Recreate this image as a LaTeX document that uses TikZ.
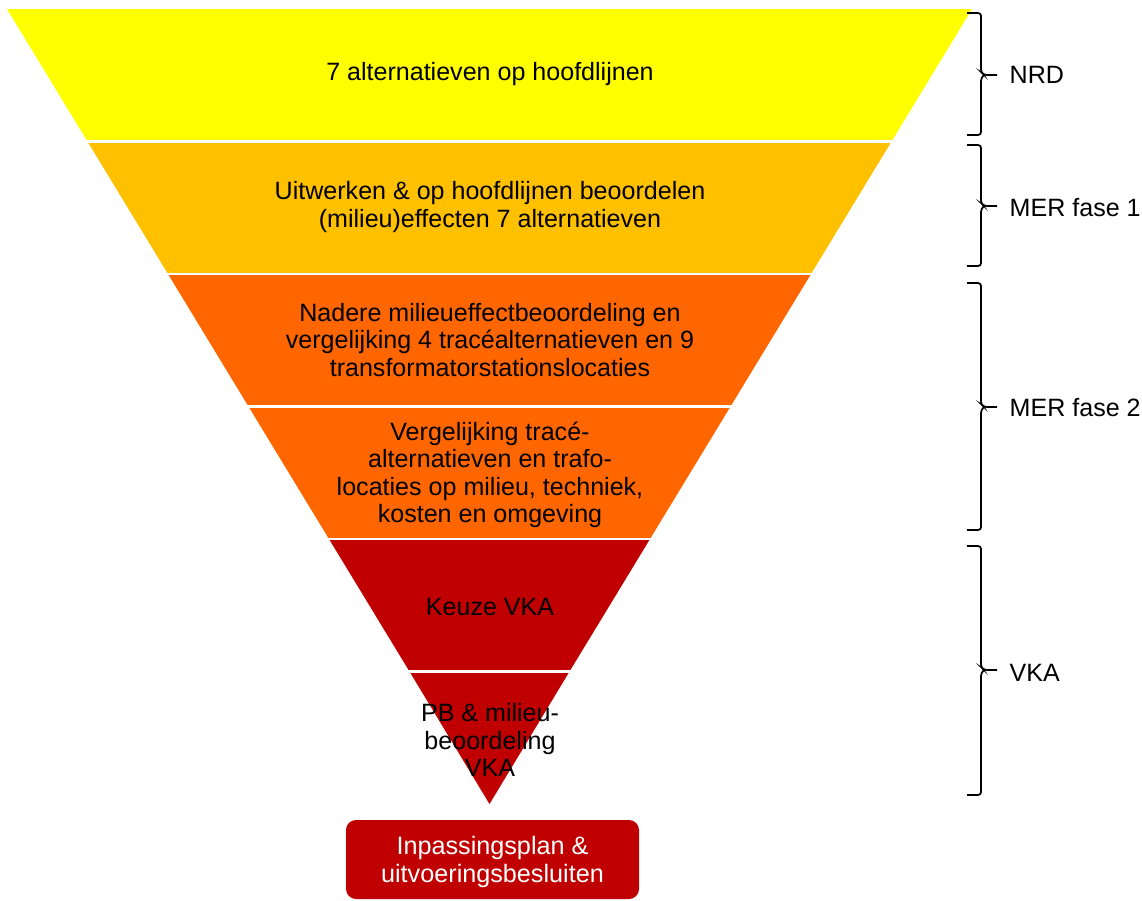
\documentclass[tikz,border=0pt]{standalone}
\usepackage{fontspec}
\setmainfont{Liberation Sans}
\definecolor{nrdyellow}{HTML}{FFFF00}
\definecolor{meramber}{HTML}{FFC000}
\definecolor{merorange}{HTML}{FF6600}
\definecolor{vkared}{HTML}{C00000}
\tikzset{
  gap/.style={draw=white, line width=2.2pt},
  bandtext/.style={align=center, font=\fontsize{18.8}{20.5}\selectfont, text=black},
  endbox/.style={fill=vkared, rounded corners=7.5pt, align=center, text=white,
    font=\fontsize{18.9}{21.5}\selectfont, minimum width=219.75pt, minimum height=59.25pt, inner sep=0pt},
  phasebrace/.style={draw=black, line width=1.3pt, rounded corners=2.2pt},
  phaselabel/.style={anchor=west, font=\fontsize{18.8}{20.5}\selectfont},
}
\begin{document}
\begin{tikzpicture}[x=0.75pt, y=-0.75pt]
        \useasboundingbox (0,0) rectangle (1142,900);
        % funnel bands
        \fill [nrdyellow] (7,9) -- (972,9) -- (891.5,141.5) -- (87.5,141.5) -- cycle;
        \fill [meramber] (87.5,141.5) -- (891.5,141.5) -- (811,274) -- (168,274) -- cycle;
        \fill [merorange] (168,274) -- (811,274) -- (730.5,406.5) -- (248.5,406.5) -- cycle;
        \fill [merorange] (248.5,406.5) -- (730.5,406.5) -- (650,539) -- (329,539) -- cycle;
        \fill [vkared] (329,539) -- (650,539) -- (569.5,671.5) -- (409.5,671.5) -- cycle;
        \fill [vkared] (409.5,671.5) -- (569.5,671.5) -- (489.5,804) -- cycle;
        \draw [gap] (80,141.5) -- (900,141.5);
        \draw [gap] (160,274) -- (820,274);
        \draw [gap] (240,406.5) -- (740,406.5);
        \draw [gap] (320,539) -- (660,539);
        \draw [gap] (400,671.5) -- (580,671.5);
        
        \node [bandtext] (nrd) at (490,74) {7 alternatieven op hoofdlijnen};
        \node [bandtext] (fase1) at (490,207) {Uitwerken \& op hoofdlijnen beoordelen\\(milieu)effecten 7 alternatieven};
        \node [bandtext] (fase2a) at (490,340) {Nadere milieueffectbeoordeling en\\vergelijking 4 tracéalternatieven en 9\\transformatorstationslocaties};
        \node [bandtext] (fase2b) at (490,475) {Vergelijking tracé-\\alternatieven en trafo-\\locaties op milieu, techniek,\\kosten en omgeving};
        \node [bandtext] (keuze) at (490,607) {Keuze VKA};
        \node [bandtext] (pb) at (490,740) {PB \& milieu-\\beoordeling\\VKA};
        \node [endbox] (plan) at (492.5,859.5) {};
        \node [text=white, align=center, font=\fontsize{18.9}{21.5}\selectfont] (plantext) at (492.5,862) {Inpassingsplan \&\\uitvoeringsbesluiten};
        
        % phases
        \draw [phasebrace] (967,13) -- (981,13) -- (981,72) -- (984,75) -- (997,75);
        \draw [phasebrace] (984,75) -- (981,78) -- (981,135) -- (967,135);
        \draw [phasebrace] (967,145) -- (981,145) -- (981,203) -- (984,206) -- (997,206);
        \draw [phasebrace] (984,206) -- (981,209) -- (981,266) -- (967,266);
        \draw [phasebrace] (967,283) -- (981,283) -- (981,404) -- (984,407) -- (997,407);
        \draw [phasebrace] (984,407) -- (981,410) -- (981,530) -- (967,530);
        \draw [phasebrace] (967,546) -- (981,546) -- (981,667) -- (984,670) -- (997,670);
        \draw [phasebrace] (984,670) -- (981,673) -- (981,795) -- (967,795);
        \node [phaselabel] (nrdlabel) at (1005,75) {NRD};
        \node [phaselabel] (mer1label) at (1005,208) {MER fase 1};
        \node [phaselabel] (mer2label) at (1005,408) {MER fase 2};
        \node [phaselabel] (vkalabel) at (1005,673) {VKA};
\end{tikzpicture}
\end{document}
